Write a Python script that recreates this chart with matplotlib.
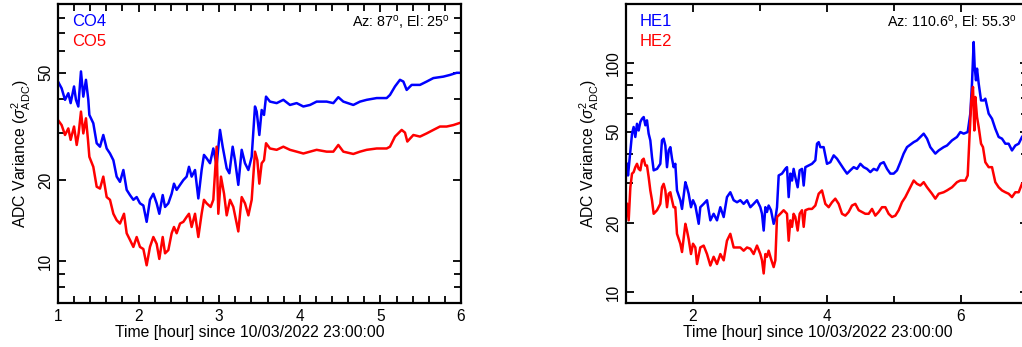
import matplotlib
matplotlib.use("Agg")
import matplotlib.pyplot as plt
from matplotlib.ticker import (FixedFormatter, FixedLocator, LogLocator,
                               MultipleLocator, NullFormatter)

plt.rcParams["font.family"] = ["Liberation Sans", "DejaVu Sans"]
plt.rcParams["mathtext.fontset"] = "custom"
plt.rcParams["mathtext.rm"] = "Liberation Sans"
plt.rcParams["mathtext.it"] = "Liberation Sans:italic"

# ── CO4 / CO5 (left panel) ────────────────────────────────────────────────────
co_time = [1.00, 1.045, 1.087, 1.128, 1.157, 1.199, 1.223, 1.252, 1.285, 1.314,
           1.347, 1.376, 1.389, 1.438, 1.48, 1.521, 1.562, 1.604, 1.645, 1.687,
           1.728, 1.769, 1.811, 1.852, 1.893, 1.935, 1.976, 2.017, 2.059, 2.10,
           2.141, 2.183, 2.224, 2.257, 2.299, 2.328, 2.369, 2.41, 2.439, 2.472,
           2.514, 2.555, 2.596, 2.625, 2.658, 2.70, 2.741, 2.782, 2.811, 2.844,
           2.886, 2.927, 2.968, 3.01, 3.043, 3.093, 3.126, 3.167, 3.196, 3.237,
           3.279, 3.32, 3.362, 3.403, 3.444, 3.465, 3.498, 3.527, 3.556, 3.581,
           3.63, 3.713, 3.796, 3.878, 3.961, 4.044, 4.127, 4.209, 4.333, 4.416,
           4.478, 4.54, 4.664, 4.747, 4.83, 4.954, 5.078, 5.119, 5.181, 5.243,
           5.285, 5.326, 5.388, 5.491, 5.574, 5.657, 5.781, 5.863, 5.946, 6.0]
co4 = [46.4, 43.8, 39.7, 42.0, 38.6, 44.5, 39.7, 37.5, 50.6, 40.8,
       47.1, 39.7, 34.9, 32.5, 27.4, 26.6, 29.4, 26.2, 25.1, 23.7,
       20.6, 19.7, 21.8, 18.4, 17.6, 16.9, 17.3, 16.4, 16.1, 14.0,
       16.9, 17.8, 16.4, 15.0, 17.6, 15.9, 16.4, 17.8, 19.4, 18.4,
       19.2, 20.0, 20.6, 22.4, 20.6, 21.8, 17.1, 21.8, 24.8, 24.1,
       23.1, 26.2, 22.7, 30.7, 26.6, 22.1, 21.2, 26.6, 23.7, 19.2,
       25.9, 23.1, 21.8, 24.4, 37.5, 35.9, 29.4, 36.4, 34.9, 40.8,
       39.1, 38.6, 39.7, 38.0, 38.6, 37.5, 38.0, 39.1, 39.1, 38.6,
       40.6, 39.1, 38.0, 39.1, 39.7, 40.3, 40.3, 41.4, 44.5, 47.1,
       46.4, 43.2, 45.1, 45.1, 46.4, 47.8, 48.4, 49.1, 50.0, 50.0]

co5_time = [1.00, 1.045, 1.087, 1.128, 1.157, 1.199, 1.232, 1.256, 1.285, 1.314,
            1.347, 1.372, 1.389, 1.438, 1.48, 1.521, 1.562, 1.604, 1.645, 1.687,
            1.728, 1.769, 1.819, 1.852, 1.893, 1.935, 1.976, 2.017, 2.059, 2.10,
            2.141, 2.183, 2.224, 2.257, 2.299, 2.328, 2.369, 2.41, 2.439, 2.472,
            2.514, 2.555, 2.596, 2.625, 2.658, 2.70, 2.741, 2.782, 2.811, 2.844,
            2.894, 2.927, 2.968, 2.989, 3.022, 3.06, 3.093, 3.134, 3.175, 3.237,
            3.279, 3.32, 3.362, 3.403, 3.444, 3.473, 3.498, 3.527, 3.556, 3.581,
            3.63, 3.713, 3.796, 3.878, 3.961, 4.044, 4.127, 4.209, 4.333, 4.416,
            4.478, 4.54, 4.664, 4.747, 4.83, 4.954, 5.078, 5.119, 5.181, 5.264,
            5.305, 5.334, 5.409, 5.491, 5.574, 5.657, 5.739, 5.822, 5.905, 6.0]
co5 = [33.4, 32.0, 29.4, 31.1, 28.2, 31.6, 27.0, 29.8, 35.9, 29.8,
       33.9, 28.2, 24.4, 22.4, 18.9, 18.6, 20.6, 17.3, 16.9, 15.0,
       14.2, 13.8, 15.0, 12.7, 12.0, 11.3, 12.3, 11.3, 11.1, 9.66,
       11.3, 12.3, 11.6, 10.2, 12.3, 10.7, 11.0, 12.7, 13.4, 12.7,
       13.8, 14.0, 14.6, 15.0, 13.4, 15.0, 12.3, 15.0, 16.9, 16.4,
       15.9, 16.9, 26.6, 15.0, 20.6, 17.8, 14.8, 16.9, 15.9, 12.9,
       17.3, 16.4, 14.8, 16.9, 25.5, 23.7, 19.4, 23.1, 23.7, 27.4,
       26.2, 25.9, 26.6, 25.9, 25.5, 25.1, 25.5, 25.9, 25.5, 25.5,
       27.0, 25.5, 25.0, 25.5, 25.9, 26.2, 26.2, 26.6, 29.0, 30.7,
       30.0, 27.8, 29.4, 29.0, 29.8, 30.7, 31.6, 31.6, 32.0, 32.7]

# ── HE1 / HE2 (right panel) ───────────────────────────────────────────────────
he1_time = [1.015, 1.030, 1.065, 1.090, 1.114, 1.139, 1.164, 1.189, 1.214, 1.239,
            1.264, 1.289, 1.313, 1.338, 1.363, 1.388, 1.413, 1.463, 1.512, 1.537,
            1.562, 1.587, 1.612, 1.637, 1.662, 1.687, 1.711, 1.736, 1.761, 1.811,
            1.836, 1.886, 1.910, 1.935, 1.970, 2.0, 2.035, 2.085, 2.109, 2.159,
            2.209, 2.259, 2.308, 2.358, 2.408, 2.458, 2.507, 2.557, 2.607, 2.657,
            2.706, 2.756, 2.806, 2.856, 2.905, 2.955, 3.005, 3.030, 3.055, 3.080,
            3.104, 3.129, 3.164, 3.204, 3.229, 3.254, 3.279, 3.328, 3.378, 3.403,
            3.428, 3.453, 3.478, 3.502, 3.527, 3.562, 3.592, 3.627, 3.652, 3.677,
            3.726, 3.776, 3.826, 3.851, 3.876, 3.90, 3.95, 4.0, 4.05, 4.1,
            4.149, 4.199, 4.249, 4.299, 4.348, 4.398, 4.448, 4.498, 4.547, 4.597,
            4.647, 4.697, 4.746, 4.796, 4.846, 4.896, 4.945, 4.995, 5.045, 5.095,
            5.144, 5.194, 5.294, 5.343, 5.393, 5.443, 5.493, 5.542, 5.617, 5.667,
            5.741, 5.791, 5.866, 5.940, 5.990, 6.040, 6.100, 6.139, 6.164, 6.189,
            6.204, 6.224, 6.239, 6.264, 6.299, 6.338, 6.363, 6.413, 6.463, 6.512,
            6.562, 6.612, 6.662, 6.711, 6.761, 6.811, 6.861, 6.910]
he1 = [36.3, 32.3, 41.5, 49.1, 52.5, 47.5, 54.2, 50.7, 55.2, 57.0,
       58.0, 53.4, 56.1, 49.1, 45.9, 38.8, 34.0, 34.5, 36.3, 45.9,
       46.7, 43.6, 35.1, 41.5, 42.9, 38.2, 35.1, 36.3, 27.8, 25.2,
       23.1, 30.2, 28.7, 26.9, 23.5, 25.2, 23.9, 19.9, 23.5, 24.3,
       25.2, 20.6, 22.0, 20.6, 23.5, 21.3, 26.0, 27.3, 25.2, 24.7,
       25.2, 24.3, 25.2, 23.5, 24.3, 25.2, 23.5, 22.0, 18.6, 23.5,
       22.4, 23.9, 22.8, 19.9, 20.9, 23.5, 32.3, 32.9, 34.5, 35.1,
       26.0, 32.9, 30.7, 34.5, 31.8, 28.7, 34.0, 34.5, 29.2, 35.1,
       35.7, 36.3, 37.6, 44.4, 45.1, 42.9, 42.9, 36.3, 36.9, 39.5,
       38.2, 36.3, 34.5, 32.9, 34.0, 35.1, 34.5, 36.3, 35.1, 34.5,
       33.4, 34.5, 34.0, 36.3, 36.9, 34.5, 32.9, 32.9, 34.0, 36.9,
       40.2, 42.9, 45.1, 45.9, 47.5, 49.1, 46.7, 42.9, 40.2, 41.5,
       42.9, 43.6, 45.9, 47.5, 49.9, 49.1, 49.9, 60.0, 81.1, 123.0,
       95.8, 83.8, 94.2, 81.1, 68.5, 68.5, 69.7, 60.0, 57.0, 51.6,
       47.5, 46.7, 44.4, 44.4, 41.5, 43.6, 44.4, 47.5]

he2_time = [1.015, 1.040, 1.065, 1.090, 1.114, 1.139, 1.164, 1.189, 1.214, 1.239,
            1.264, 1.289, 1.313, 1.338, 1.363, 1.388, 1.413, 1.463, 1.512, 1.537,
            1.562, 1.587, 1.612, 1.637, 1.662, 1.687, 1.711, 1.736, 1.761, 1.811,
            1.836, 1.886, 1.910, 1.935, 1.970, 2.0, 2.035, 2.06, 2.109, 2.159,
            2.209, 2.259, 2.308, 2.358, 2.408, 2.458, 2.507, 2.557, 2.607, 2.657,
            2.706, 2.756, 2.806, 2.856, 2.905, 2.955, 3.005, 3.030, 3.055, 3.080,
            3.104, 3.129, 3.164, 3.204, 3.229, 3.254, 3.303, 3.353, 3.403, 3.428,
            3.453, 3.478, 3.502, 3.527, 3.562, 3.592, 3.627, 3.652, 3.677, 3.726,
            3.776, 3.826, 3.876, 3.925, 3.975, 4.025, 4.075, 4.124, 4.174, 4.224,
            4.274, 4.323, 4.373, 4.423, 4.473, 4.522, 4.572, 4.622, 4.672, 4.721,
            4.771, 4.821, 4.871, 4.920, 4.970, 5.020, 5.070, 5.119, 5.169, 5.244,
            5.294, 5.343, 5.393, 5.443, 5.493, 5.567, 5.617, 5.667, 5.741, 5.791,
            5.866, 5.940, 5.990, 6.065, 6.100, 6.129, 6.154, 6.179, 6.199, 6.214,
            6.239, 6.264, 6.299, 6.328, 6.363, 6.413, 6.463, 6.512, 6.562, 6.612,
            6.662, 6.711, 6.761, 6.811, 6.861, 6.910]
he2 = [24.3, 20.6, 28.7, 32.9, 33.4, 35.1, 36.3, 34.5, 34.0, 37.6,
       38.2, 35.7, 35.7, 31.8, 27.8, 25.2, 22.0, 22.8, 24.3, 28.7,
       29.7, 27.8, 23.5, 26.9, 27.3, 25.2, 23.5, 23.5, 18.0, 16.3,
       15.0, 19.9, 18.6, 17.1, 14.7, 16.3, 15.7, 13.3, 15.7, 16.0,
       14.7, 13.1, 14.3, 13.3, 14.7, 13.8, 16.8, 18.0, 15.7, 15.7,
       15.7, 15.2, 15.7, 15.5, 14.7, 16.0, 14.7, 13.8, 12.1, 14.7,
       14.3, 15.2, 14.0, 12.9, 13.8, 21.3, 22.0, 22.8, 22.0, 16.8,
       20.6, 19.3, 22.0, 21.3, 18.6, 22.0, 22.8, 19.3, 22.8, 23.1,
       23.1, 23.9, 26.9, 27.8, 24.3, 23.5, 24.7, 25.6, 24.3, 22.0,
       21.6, 22.4, 23.9, 24.3, 22.8, 22.4, 22.0, 22.0, 23.1, 21.6,
       22.4, 23.5, 23.5, 22.0, 21.3, 21.6, 22.8, 24.7, 26.0, 28.7,
       30.7, 29.7, 29.2, 30.2, 28.7, 26.9, 25.6, 26.9, 27.3, 27.8,
       28.7, 30.2, 30.7, 30.7, 32.3, 49.1, 68.5, 78.4, 50.7, 70.9,
       58.0, 52.5, 44.4, 42.9, 36.9, 35.1, 35.1, 30.2, 28.7, 27.8,
       27.3, 26.9, 26.0, 27.3, 27.3, 29.7]

YLABEL = r"ADC Variance ($\sigma^{2}_{\rm ADC}$)"
XLABEL = "Time [hour] since 10/03/2022 23:00:00"
BLUE, RED = "#0000ff", "#ff0000"


def style_axes(ax, xlim, ylim, yticks, xmajor, xminor):
    ax.set_yscale("log")
    ax.set_xlim(*xlim)
    ax.set_ylim(*ylim)
    ax.yaxis.set_major_locator(FixedLocator(yticks))
    ax.yaxis.set_minor_locator(LogLocator(base=10, subs=range(2, 10)))
    ax.yaxis.set_major_formatter(FixedFormatter([str(v) for v in yticks]))
    ax.yaxis.set_minor_formatter(NullFormatter())
    ax.xaxis.set_major_locator(MultipleLocator(xmajor))
    ax.xaxis.set_minor_locator(MultipleLocator(xminor))
    ax.tick_params(which="both", direction="in", top=True, right=True,
                   width=1.3, labelsize=11.2)
    ax.tick_params(which="major", length=6)
    ax.tick_params(which="minor", length=5)
    ax.tick_params(axis="x", pad=4)
    for lbl in ax.get_yticklabels():
        lbl.set_rotation(90)
        lbl.set_va("center")
    for sp in ax.spines.values():
        sp.set_linewidth(1.6)
    ax.set_xlabel(XLABEL, fontsize=11.3, labelpad=1)
    ax.xaxis.label.set_x(0.477)  # label sits slightly left of centre in the original
    ax.set_ylabel(YLABEL, fontsize=11.3, labelpad=4)


fig = plt.figure(figsize=(10.22, 3.47), dpi=100)

ax1 = fig.add_axes([58 / 1022, 44 / 347, 403 / 1022, 299 / 347])
ax1.plot(co_time, co4, color=BLUE, lw=1.8)
ax1.plot(co5_time, co5, color=RED, lw=1.8)
style_axes(ax1, (1, 6), (7, 90), [10, 20, 50], 1, 0.2)
ax1.text(0.035, 0.94, "CO4", color=BLUE, fontsize=12, transform=ax1.transAxes, va="center")
ax1.text(0.035, 0.873, "CO5", color=RED, fontsize=12, transform=ax1.transAxes, va="center")
ax1.text(0.973, 0.94, r"Az: 87$^{\rm o}$, El: 25$^{\rm o}$", fontsize=10.3,
         transform=ax1.transAxes, ha="right", va="center")

ax2 = fig.add_axes([626 / 1022, 44 / 347, 402 / 1022, 299 / 347])
ax2.plot(he1_time, he1, color=BLUE, lw=1.8)
ax2.plot(he2_time, he2, color=RED, lw=1.8)
style_axes(ax2, (1, 7), (9, 180), [10, 20, 50, 100], 2, 1)
ax2.text(0.035, 0.94, "HE1", color=BLUE, fontsize=12, transform=ax2.transAxes, va="center")
ax2.text(0.035, 0.873, "HE2", color=RED, fontsize=12, transform=ax2.transAxes, va="center")
ax2.text(0.973, 0.94, r"Az: 110.6$^{\rm o}$, El: 55.3$^{\rm o}$", fontsize=10.3,
         transform=ax2.transAxes, ha="right", va="center")

fig.savefig("out.png", dpi=100)
plt.close(fig)
